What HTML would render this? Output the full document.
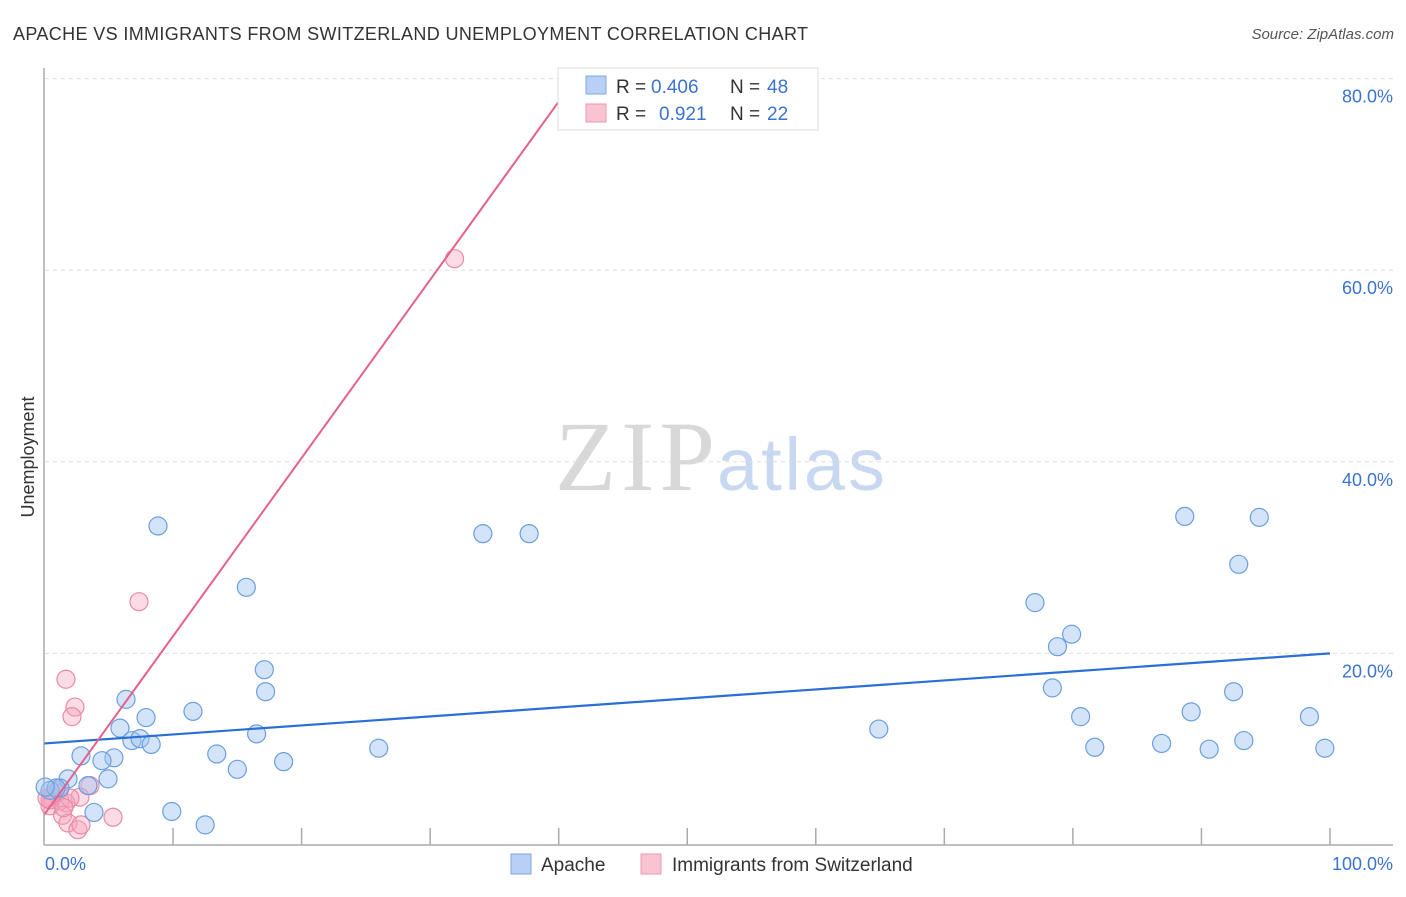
<!DOCTYPE html>
<html><head><meta charset="utf-8"><style>
body{margin:0;background:#fff;font-family:"Liberation Sans",sans-serif}
</style></head><body>
<svg id="chart" width="1406" height="892" xmlns="http://www.w3.org/2000/svg">
<text x="13" y="40" font-size="18" fill="#333" textLength="795">APACHE VS IMMIGRANTS FROM SWITZERLAND UNEMPLOYMENT CORRELATION CHART</text>
<text x="1394" y="39" font-size="15" fill="#555" font-style="italic" text-anchor="end">Source: ZipAtlas.com</text>
<text transform="translate(34,457) rotate(-90)" font-size="18" fill="#333" text-anchor="middle">Unemployment</text>
<g>
<text x="555" y="490" font-size="100" fill="#d8d8d8" font-family="Liberation Serif,serif" textLength="160">ZIP</text>
<text x="717" y="490" font-size="74" fill="#c8d8f0" textLength="168">atlas</text>
</g>
<g id="grid"></g><g id="axes"></g><g id="pts"></g><g id="lines"></g>
<g>
<rect x="558" y="68" width="260" height="62" fill="#fff" stroke="#ddd"/>
<rect x="586" y="76" width="20" height="18" fill="#b8d0f4" stroke="#7aa8e6"/>
<rect x="586" y="104" width="20" height="18" fill="#f8c4d2" stroke="#ec99b1"/>
<text y="93" font-size="19" fill="#333"><tspan x="616">R =</tspan><tspan x="651" fill="#3a73d0">0.406</tspan><tspan x="730">N =</tspan><tspan x="767" fill="#3a73d0">48</tspan></text>
<text y="120" font-size="19" fill="#333"><tspan x="616">R =</tspan><tspan x="659" fill="#3a73d0">0.921</tspan><tspan x="730">N =</tspan><tspan x="767" fill="#3a73d0">22</tspan></text>
</g>
<g>
<rect x="511" y="854" width="20" height="20" fill="#b8d0f4" stroke="#7aa8e6"/>
<text x="541" y="871" font-size="19" fill="#333">Apache</text>
<rect x="641" y="854" width="20" height="20" fill="#f8c4d2" stroke="#ec99b1"/>
<text x="672" y="871" font-size="19" fill="#333">Immigrants from Switzerland</text>
</g>
<text x="45" y="870" font-size="18" fill="#3a73d0">0.0%</text>
<text x="1393" y="870" font-size="18" fill="#3a73d0" text-anchor="end">100.0%</text>
</svg>
<script>
const apacheX=[8.83,15.7,6.34,11.55,7.9,17.1,17.2,5.87,16.5,6.8,7.43,8.3,13.4,15.0,18.6,5.4,4.47,2.84,4.94,1.83,3.38,1.2,0.43,3.85,9.9,12.5,34.1,37.7,26.0,64.9,77.05,78.8,79.9,78.4,80.6,81.7,86.9,88.7,89.2,90.6,92.9,94.5,92.5,93.3,98.4,99.6,0.9,0.05];
const apacheY=[33.3,26.9,15.2,13.95,13.3,18.3,16.0,12.2,11.6,10.9,11.1,10.5,9.5,7.9,8.7,9.1,8.8,9.3,6.9,6.9,6.2,5.95,5.7,3.4,3.5,2.1,32.5,32.5,10.1,12.1,25.3,20.7,22.0,16.4,13.4,10.2,10.6,34.3,13.9,10.0,29.3,34.2,16.0,10.9,13.4,10.1,5.95,6.05];
const swissX=[31.9,7.35,1.67,2.37,2.14,3.54,5.33,2.76,1.67,1.2,0.58,0.82,0.43,1.4,1.83,2.6,2.84,1.05,0.43,0.2,1.98,1.5];
const swissY=[61.2,25.4,17.3,14.4,13.4,6.2,2.9,5.0,4.4,4.6,5.0,5.5,4.1,3.1,2.3,1.6,2.1,5.7,4.7,4.9,4.9,3.9];
const yTicks=[20,40,60,80];
const xTicks=[10,20,30,40,50,60,70,80,90,100];
const apacheFit=[10.6,20.0];
const swissFit=[3.2,1.86];
const NS='http://www.w3.org/2000/svg';
const sx=v=>44.5+v*12.855, sy=v=>845-v*9.58;
function mk(tag,attrs,parent){const e=document.createElementNS(NS,tag);for(const k in attrs)e.setAttribute(k,attrs[k]);document.getElementById(parent).appendChild(e);return e;}
yTicks.forEach(t=>{
 const l=mk('line',{x1:45,x2:1393,y1:sy(t),y2:sy(t),stroke:'#ddd','stroke-dasharray':'4,4'},'grid');
 
 
 const tx=mk('text',{x:1393,y:sy(t)+24,'font-size':18,fill:'#3a73d0','text-anchor':'end'},'grid');
 tx.textContent=t.toFixed(1)+'%';
 
 
});
const ya=mk('line',{x1:44,x2:44,y1:68,y2:845,stroke:'#aaa','stroke-width':1.5},'axes');


const xa=mk('line',{x1:44,x2:1393,y1:845,y2:845,stroke:'#aaa','stroke-width':1.5},'axes');


xTicks.forEach(t=>{
 const k=mk('line',{x1:sx(t),x2:sx(t),y1:828,y2:845,stroke:'#aaa','stroke-width':1.5},'axes');
 
 
});
swissX.forEach((x,i)=>{
 const c=mk('circle',{cx:sx(x),cy:sy(swissY[i]),r:9,fill:'rgba(245,165,190,0.4)',stroke:'#eb8aa5','stroke-width':1.2},'pts');
 
 
});
apacheX.forEach((x,i)=>{
 const c=mk('circle',{cx:sx(x),cy:sy(apacheY[i]),r:9,fill:'rgba(160,195,240,0.45)',stroke:'#6a9fe0','stroke-width':1.2},'pts');
 
 
});
const bl=mk('line',{x1:sx(0),y1:sy(apacheFit[0]),x2:sx(100),y2:sy(apacheFit[1]),stroke:'#2a6fd6','stroke-width':2.2},'lines');


const xEnd=(81.1-swissFit[0])/swissFit[1];
const pl=mk('line',{x1:sx(0),y1:sy(swissFit[0]),x2:sx(xEnd),y2:sy(swissFit[0]+swissFit[1]*xEnd),stroke:'#e5608a','stroke-width':2},'lines');


</script>
</body></html>
